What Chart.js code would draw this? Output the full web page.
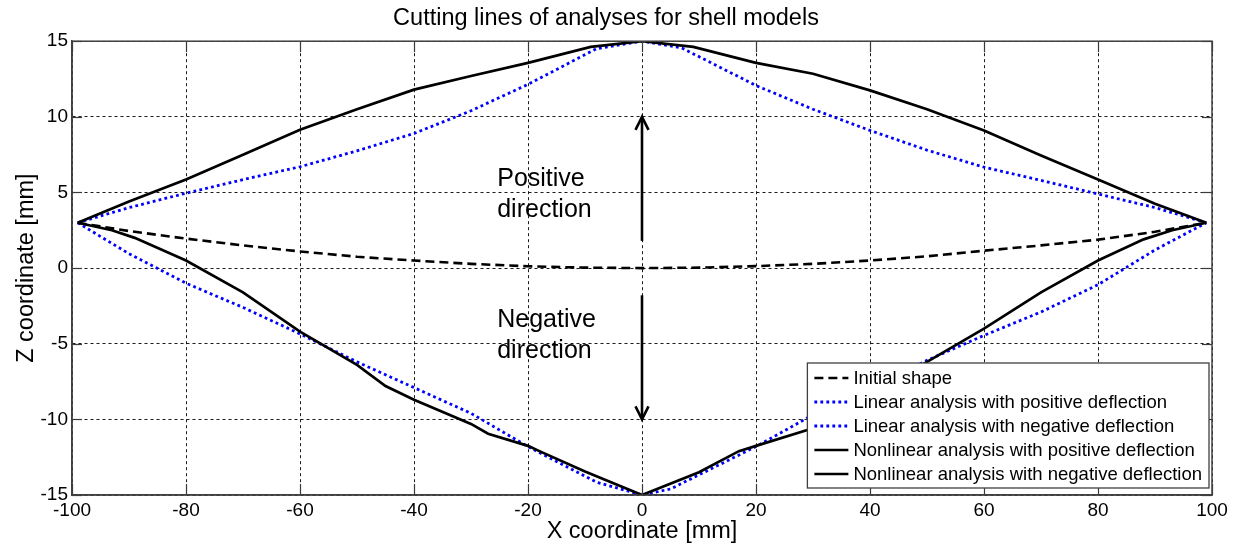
<!DOCTYPE html>
<html>
<head>
<meta charset="utf-8">
<script src="https://cdn.jsdelivr.net/npm/chart.js@4/dist/chart.umd.min.js"></script>
<style>
  html, body { margin: 0; padding: 0; background: #ffffff; }
  #wrap { width: 1237px; height: 546px; }
</style>
</head>
<body>
<div id="wrap"><canvas id="c" width="1237" height="546"></canvas></div>
<script>
// Axis ticks
const xTicks = [-100, -80, -60, -40, -20, 0, 20, 40, 60, 80, 100];
const yTicks = [-15, -10, -5, 0, 5, 10, 15];

// Cutting lines: X coordinate [mm] and Z coordinate [mm] per series
const initialX = [-99, -90, -80, -70, -60, -50, -40, -30, -20, -10, 0, 10, 20, 30, 40, 50, 60, 70, 80, 90, 99];
const initialZ = [3, 2.45, 1.95, 1.5, 1.1, 0.75, 0.5, 0.28, 0.12, 0.03, 0, 0.03, 0.13, 0.28, 0.5, 0.78, 1.15, 1.5, 1.88, 2.4, 3];

const linPosX = [-99, -90, -80, -70, -60, -50, -40, -30, -20, -8, 0, 7, 20, 30, 40, 50, 60, 70, 80, 90, 99];
const linPosZ = [3, 4.0, 4.95, 5.85, 6.7, 7.75, 8.9, 10.4, 12.15, 14.5, 15, 14.55, 12.07, 10.5, 9.1, 7.8, 6.67, 5.8, 4.9, 4.0, 3];

const linNegX = [-99, -90, -80, -70, -60, -50, -40, -30, -20, -8, 0, 5, 20, 30, 40, 50, 60, 70, 80, 90, 99];
const linNegZ = [3, 0.95, -1.0, -2.6, -4.35, -6.2, -7.9, -9.6, -11.8, -14.15, -15, -14.6, -11.8, -9.7, -8.0, -6.1, -4.45, -2.9, -1.1, 1.2, 3];

const nonPosX = [-99, -90, -80, -70, -60, -50, -40, -30, -20, -9, 0, 9, 20, 30, 40, 50, 60, 70, 80, 90, 99];
const nonPosZ = [3, 4.4, 5.85, 7.5, 9.15, 10.5, 11.8, 12.7, 13.57, 14.62, 15, 14.62, 13.57, 12.85, 11.75, 10.5, 9.1, 7.45, 5.85, 4.25, 3];

const nonNegX = [-99, -93, -89, -80, -70, -60, -50, -45, -40, -30, -27, -20, -18, -10, 0, 10, 17, 20, 29, 40, 50, 60, 70, 80, 88, 93, 99];
const nonNegZ = [3, 2.5, 2.0, 0.5, -1.6, -4.2, -6.4, -7.8, -8.7, -10.3, -10.95, -11.75, -12.1, -13.45, -15, -13.5, -12.1, -11.75, -10.7, -8.6, -6.2, -4.0, -1.6, 0.5, 1.9, 2.5, 3];

const seriesNames = [
  'Initial shape',
  'Linear analysis with positive deflection',
  'Linear analysis with negative deflection',
  'Nonlinear analysis with positive deflection',
  'Nonlinear analysis with negative deflection'
];

const FONT = "'Liberation Sans', Arial, sans-serif";
Chart.defaults.font.family = FONT;
Chart.defaults.color = '#000000';

const pts = (xs, zs) => xs.map((v, i) => ({ x: v, y: zs[i] }));

const styles = [
  { color: '#000000', width: 2.6, dash: [9, 5], order: 5 },
  { color: '#0000ff', width: 2.8, dash: [2.8, 3.2], order: 4 },
  { color: '#0000ff', width: 2.8, dash: [2.8, 3.2], order: 3 },
  { color: '#000000', width: 2.7, dash: [], order: 2 },
  { color: '#000000', width: 2.7, dash: [], order: 1 }
];
const seriesData = [
  pts(initialX, initialZ),
  pts(linPosX, linPosZ),
  pts(linNegX, linNegZ),
  pts(nonPosX, nonPosZ),
  pts(nonNegX, nonNegZ)
];

const datasets = seriesNames.map((name, i) => ({
  label: name,
  data: seriesData[i],
  showLine: true,
  borderColor: styles[i].color,
  backgroundColor: styles[i].color,
  borderWidth: styles[i].width,
  borderDash: styles[i].dash,
  borderCapStyle: 'butt',
  borderJoinStyle: 'miter',
  pointRadius: 0,
  pointHoverRadius: 0,
  tension: 0,
  fill: false,
  order: styles[i].order
}));

// Frame, inward tick marks, direction arrows, annotations and the legend box
const decorPlugin = {
  id: 'decor',
  afterDatasetsDraw(chart) {
    const { ctx, chartArea: a, scales: { x, y } } = chart;
    const seg = (x1, y1, x2, y2) => { ctx.beginPath(); ctx.moveTo(x1, y1); ctx.lineTo(x2, y2); ctx.stroke(); };
    ctx.save();

    // inward tick marks on all four sides
    ctx.strokeStyle = '#3a3a3a';
    ctx.lineWidth = 1.2;
    ctx.setLineDash([]);
    xTicks.forEach(v => {
      const px = Math.round(x.getPixelForValue(v)) + 0.5;
      seg(px, a.top, px, a.top + 11);
      seg(px, a.bottom, px, a.bottom - 11);
    });
    yTicks.forEach(v => {
      const py = Math.round(y.getPixelForValue(v)) + 0.5;
      seg(a.left, py, a.left + 10, py);
      seg(a.right, py, a.right - 10, py);
    });

    // axes box
    ctx.strokeStyle = '#404040';
    ctx.lineWidth = 1.5;
    ctx.strokeRect(a.left, a.top, a.right - a.left, a.bottom - a.top);

    // direction arrows at X = 0
    const ax = x.getPixelForValue(0);
    ctx.strokeStyle = '#000000';
    ctx.lineWidth = 2.6;
    const upFrom = y.getPixelForValue(1.8), upTo = y.getPixelForValue(10);
    seg(ax, upFrom, ax, upTo);
    ctx.beginPath();
    ctx.moveTo(ax - 6.5, upTo + 13); ctx.lineTo(ax, upTo); ctx.lineTo(ax + 6.5, upTo + 13);
    ctx.stroke();
    const dnFrom = y.getPixelForValue(-1.8), dnTo = y.getPixelForValue(-10);
    seg(ax, dnFrom, ax, dnTo);
    ctx.beginPath();
    ctx.moveTo(ax - 6.5, dnTo - 13); ctx.lineTo(ax, dnTo); ctx.lineTo(ax + 6.5, dnTo - 13);
    ctx.stroke();

    // annotations
    ctx.fillStyle = '#000000';
    ctx.font = `25px ${FONT}`;
    ctx.textAlign = 'left';
    ctx.textBaseline = 'middle';
    const tx = x.getPixelForValue(-25.4);
    ctx.fillText('Positive', tx, y.getPixelForValue(5.9));
    ctx.fillText('direction', tx, y.getPixelForValue(3.85));
    ctx.fillText('Negative', tx, y.getPixelForValue(-3.45));
    ctx.fillText('direction', tx, y.getPixelForValue(-5.5));

    // legend
    ctx.font = `18.5px ${FONT}`;
    const maxW = Math.max(...seriesNames.map(n => ctx.measureText(n).width));
    const rowH = 24;
    const boxW = 46 + maxW + 7;
    const boxH = 15 + rowH * (seriesNames.length - 1) + 14;
    const bx = a.right - 3 - boxW;
    const by = a.bottom - 7 - boxH;
    ctx.fillStyle = '#ffffff';
    ctx.fillRect(bx, by, boxW, boxH);
    ctx.strokeStyle = '#404040';
    ctx.lineWidth = 1.3;
    ctx.strokeRect(bx, by, boxW, boxH);
    seriesNames.forEach((name, i) => {
      const cy = by + 15 + rowH * i;
      ctx.strokeStyle = styles[i].color;
      ctx.lineWidth = styles[i].width;
      ctx.setLineDash(styles[i].dash);
      seg(bx + 7, cy, bx + 41, cy);
      ctx.setLineDash([]);
      ctx.fillStyle = '#000000';
      ctx.fillText(name, bx + 46, cy + 1);
    });
    ctx.restore();
  }
};

new Chart(document.getElementById('c'), {
  type: 'scatter',
  data: { datasets },
  options: {
    responsive: false,
    animation: false,
    events: [],
    layout: { padding: { left: 0, right: 25, top: 0, bottom: 0 } },
    plugins: {
      legend: { display: false },
      tooltip: { enabled: false },
      title: {
        display: true,
        text: 'Cutting lines of analyses for shell models',
        color: '#000000',
        font: { size: 23.5, weight: 'normal' },
        padding: { top: 4, bottom: 9 }
      }
    },
    scales: {
      x: {
        type: 'linear',
        min: -100, max: 100,
        afterBuildTicks: s => { s.ticks = xTicks.map(v => ({ value: v })); },
        afterFit: s => { s.height = 51; },
        ticks: { color: '#000000', font: { size: 19 }, padding: 4, maxRotation: 0, autoSkip: false },
        grid: { color: '#1a1a1a', lineWidth: 1, drawTicks: false },
        border: { display: true, color: '#404040', width: 1.5, dash: [3, 3] },
        title: { display: true, text: 'X coordinate [mm]', color: '#000000', font: { size: 23.5 }, padding: { top: 0, bottom: 0 } }
      },
      y: {
        type: 'linear',
        min: -15, max: 15,
        afterBuildTicks: s => { s.ticks = yTicks.map(v => ({ value: v })); },
        afterFit: s => { s.width = 72; },
        ticks: { color: '#000000', font: { size: 19 }, padding: 4, autoSkip: false },
        grid: { color: '#1a1a1a', lineWidth: 1, drawTicks: false },
        border: { display: true, color: '#404040', width: 1.5, dash: [3, 3] },
        title: { display: true, text: 'Z coordinate [mm]', color: '#000000', font: { size: 23.5 }, padding: { top: 12, bottom: 0 } }
      }
    }
  },
  plugins: [decorPlugin]
});
</script>
</body>
</html>
